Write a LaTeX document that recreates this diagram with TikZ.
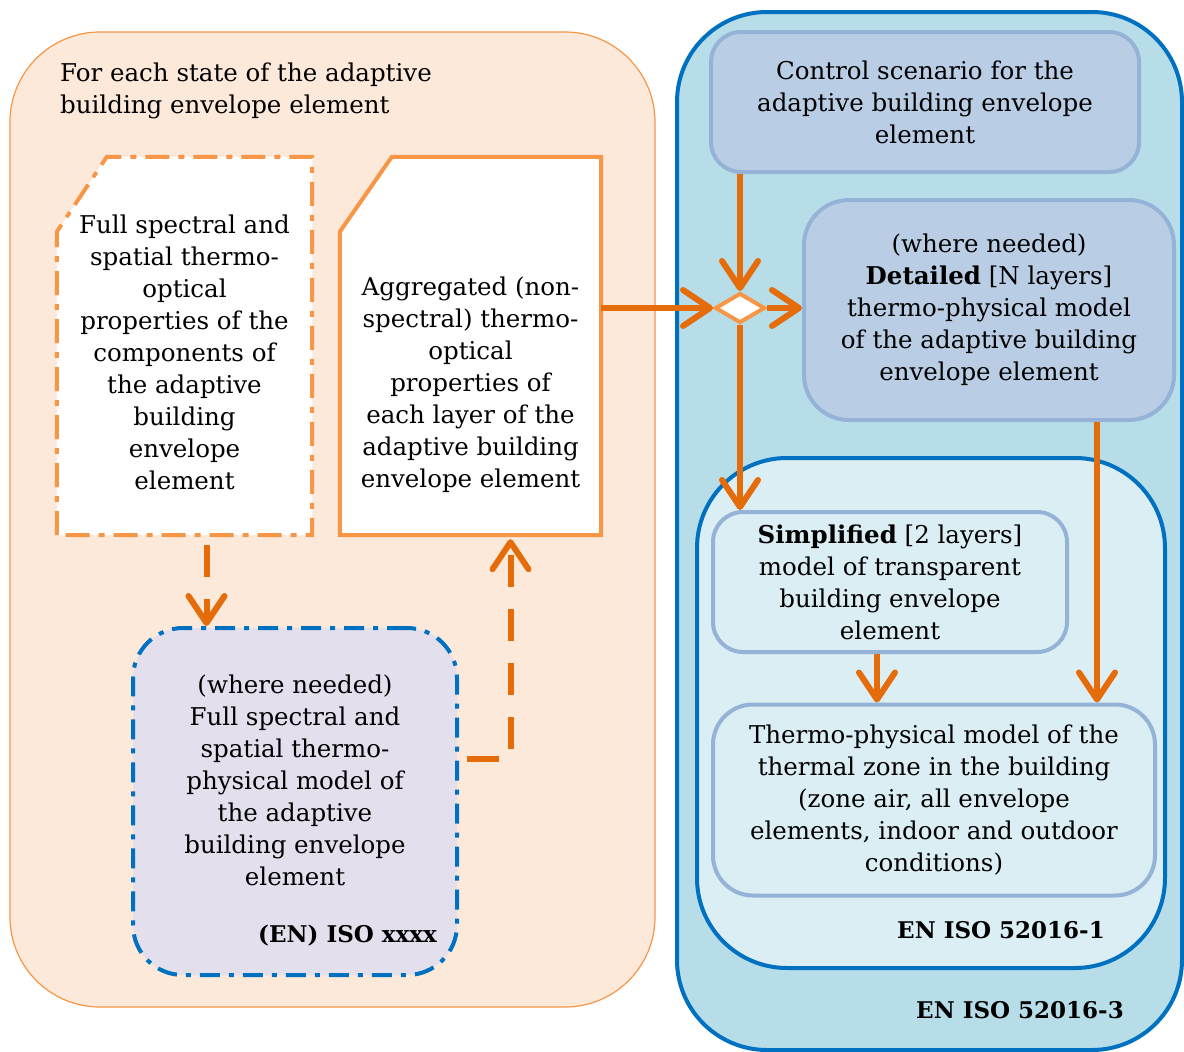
\documentclass[tikz,border=0pt]{standalone}
\usepackage{fontspec}
\setmainfont{DejaVu Serif}
\usepackage{tikz}
\usetikzlibrary{arrows.meta}
\usetikzlibrary{shapes.geometric}
\usetikzlibrary{positioning}
\definecolor{morange}{HTML}{E46C0A}
\definecolor{lorange}{HTML}{F79646}
\definecolor{orangebg}{HTML}{FDE9D9}
\definecolor{mblue}{HTML}{0070C0}
\definecolor{outerbg}{HTML}{B7DEE8}
\definecolor{innerbg}{HTML}{DAEEF3}
\definecolor{boxfill}{HTML}{B9CDE5}
\definecolor{boxline}{HTML}{95B3D7}
\definecolor{purplebg}{HTML}{E4DFEC}

\begin{document}
\begin{tikzpicture}[x=1pt, y=-1pt,
    every node/.style={font=\fontsize{24.5}{32}\selectfont, align=center, inner sep=0pt},
    flow/.style={morange, line width=6pt, -{Straight Barb[length=27pt, width=36pt, round]}},
    dashflow/.style={flow, dash pattern=on 32pt off 22pt},
    docline/.style={lorange, line width=4pt, fill=white},
    modelbox/.style={draw=boxline, line width=4pt, rounded corners=30pt},
    stdlabel/.style={font=\fontsize{23}{32}\selectfont\bfseries}]
    \useasboundingbox (0, 0) rectangle (1184, 1052);

    \draw [fill=orangebg, draw=lorange, line width=1.2pt, rounded corners=90pt] (10, 32) rectangle (655, 1007);
    \draw [fill=outerbg, draw=mblue, line width=4pt, rounded corners=90pt] (677, 12) rectangle (1182, 1050);
    \draw [fill=innerbg, draw=mblue, line width=4pt, rounded corners=90pt] (697, 458) rectangle (1165, 968);

    \node [anchor=north west, align=left] (state) at (60, 63) {For each state of the adaptive\\building envelope element};

    \node [minimum width=255pt, minimum height=378pt] (spec) at (184.5, 346) {};
    \node [minimum width=261pt, minimum height=378pt] (agg) at (470.5, 346) {};
    \draw [docline, dash pattern=on 24pt off 9pt on 6pt off 9pt] (spec.south west) -- ([yshift=-75pt]spec.north west) -- ([xshift=50pt]spec.north west) -- (spec.north east) -- (spec.south east) -- cycle;
    \draw [docline] (agg.south west) -- ([yshift=-75pt]agg.north west) -- ([xshift=52pt]agg.north west) -- (agg.north east) -- (agg.south east) -- cycle;
    \node (spectext) at ([yshift=-6pt]spec.center) {Full spectral and\\spatial thermo-\\optical\\properties of the\\components of\\the adaptive\\building\\envelope\\element};
    \node (aggtext) at ([yshift=-39pt]agg.center) {Aggregated (non-\\spectral) thermo-\\optical\\properties of\\each layer of the\\adaptive building\\envelope element};

    \node [draw=mblue, fill=purplebg, line width=4pt, rounded corners=50pt, dash pattern=on 20pt off 9pt on 5pt off 9pt, minimum width=324pt, minimum height=347pt] (full) at (295, 801.5) {};
    \node (fulltext) at ([yshift=21pt]full.center) {(where needed)\\Full spectral and\\spatial thermo-\\physical model of\\the adaptive\\building envelope\\element};
    \node [stdlabel, anchor=east] (isoxxxx) at (437, 936) {(EN) ISO xxxx};

    \node [modelbox, fill=boxfill, minimum width=428pt, minimum height=140pt] (ctrl) at (925, 102) {Control scenario for the\\adaptive building envelope\\element};
    \node [modelbox, fill=boxfill, rounded corners=45pt, minimum width=370pt, minimum height=220pt] (detail) at (989, 310) {(where needed)\\\textbf{Detailed} [N layers]\\thermo-physical model\\of the adaptive building\\envelope element};
    \node [modelbox, fill=innerbg, minimum width=354pt, minimum height=140pt] (simp) at (890, 582) {\textbf{Simplified} [2 layers]\\model of transparent\\building envelope\\element};
    \node [modelbox, fill=innerbg, rounded corners=40pt, minimum width=442pt, minimum height=191pt] (zone) at (934, 800) {Thermo-physical model of the\\thermal zone in the building\\(zone air, all envelope\\elements, indoor and outdoor\\conditions)};
    \node [diamond, draw=lorange, fill=white, line width=4pt, minimum width=50pt, minimum height=30pt] (merge) at (740, 308) {};

    \node [stdlabel] (iso1) at (1001, 930) {EN ISO 52016-1};
    \node [stdlabel] (iso3) at (1020, 1010) {EN ISO 52016-3};

    \draw [flow] (agg.east |- merge) -- (merge.west);
    \draw [flow] (ctrl.south -| merge) -- (merge.north);
    \draw [flow] (merge.east) -- (merge -| detail.west);
    \draw [flow] (merge.south) -- (merge |- simp.north);
    \draw [flow] ([xshift=-13pt]simp.south) -- ([xshift=-13pt]simp.south |- zone.north);
    \draw [flow] ([xshift=108pt]detail.south) -- ([xshift=108pt]detail.south |- zone.north);

    \coordinate (fullout) at (467, 759);
    \draw [dashflow] ([xshift=22pt, yshift=-10pt]spec.south) -- ([xshift=22pt]spec.south |- full.north);
    \draw [dashflow] (fullout) -| ([xshift=40pt, yshift=-4pt]agg.south);
\end{tikzpicture}
\end{document}
